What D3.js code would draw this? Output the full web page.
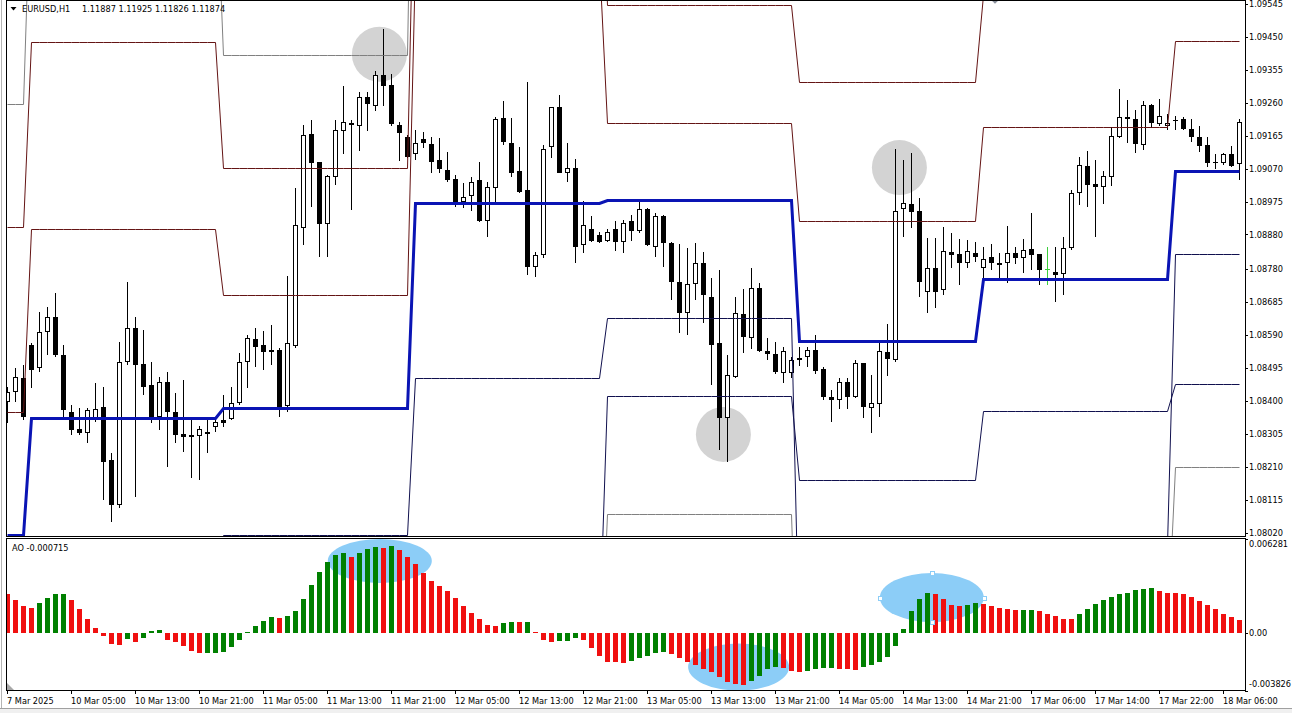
<!DOCTYPE html>
<html><head><meta charset="utf-8">
<script src="https://cdn.jsdelivr.net/npm/d3@7"></script>
<style>
html,body{margin:0;padding:0;background:#fff;overflow:hidden;}
svg{display:block;}
text{font-family:"DejaVu Sans",sans-serif;font-size:8.2px;fill:#000;}
</style></head><body>
<svg id="c" width="1292" height="713"></svg>
<script>
// ---------------- DATA ----------------
const symbolTitle = "EURUSD,H1";
const titleQuote = "1.11887 1.11925 1.11826 1.11874";
const aoTitle = "AO -0.000715";

const opens = [1.08397,1.08425,1.08466,1.08561,1.08495,1.08599,1.08642,1.08532,1.08368,1.08319,1.08307,1.08350,1.08382,1.08229,1.08099,1.08512,1.08610,1.08506,1.08446,1.08353,
1.08454,1.08368,1.08304,1.08296,1.08298,1.08310,1.08324,1.08345,1.08348,1.08394,1.08512,1.08578,1.08561,1.08541,1.08547,1.08385,1.08558,1.08899,1.09170,1.09089,
1.08910,1.09046,1.09179,1.09202,1.09193,1.09277,1.09251,1.09340,1.09311,1.09196,1.09161,1.09112,1.09155,1.09141,1.09095,1.09066,1.09040,1.08974,1.08991,1.09037,
1.08919,1.09014,1.09216,1.09144,1.09063,1.09008,1.08786,1.08821,1.09132,1.09248,1.09057,1.09072,1.08850,1.08896,1.08878,1.08861,1.08896,1.08858,1.08919,1.08890,
1.08953,1.08844,1.08933,1.08855,1.08743,1.08653,1.08737,1.08798,1.08700,1.08567,1.08350,1.08469,1.08650,1.08581,1.08726,1.08544,1.08535,1.08480,1.08480,1.08524,
1.08526,1.08547,1.08492,1.08411,1.08402,1.08454,1.08411,1.08509,1.08379,1.08391,1.08541,1.08518,1.08953,1.08968,1.08948,1.08714,1.08783,1.08720,1.08829,1.08824,
1.08798,1.08827,1.08783,1.08815,1.08798,1.08798,1.08827,1.08812,1.08838,1.08824,1.08780,1.08772,1.08766,1.08841,1.09000,1.09078,1.09026,1.09017,1.09046,1.09161,
1.09219,1.09213,1.09138,1.09254,1.09199,1.09193,1.09210,1.09213,1.09184,1.09161,1.09138,1.09089,1.09086,1.09112,1.09083];
const highs = [1.08440,1.08495,1.08503,1.08567,1.08656,1.08671,1.08711,1.08561,1.08388,1.08379,1.08379,1.08451,1.08440,1.08249,1.08570,1.08743,1.08642,1.08604,1.08512,1.08469,
1.08483,1.08423,1.08460,1.08345,1.08327,1.08345,1.08350,1.08417,1.08440,1.08538,1.08590,1.08610,1.08601,1.08619,1.08552,1.08760,1.09014,1.09196,1.09210,1.09089,
1.09052,1.09210,1.09308,1.09210,1.09291,1.09291,1.09352,1.09473,1.09343,1.09205,1.09167,1.09181,1.09176,1.09161,1.09158,1.09118,1.09052,1.09028,1.09046,1.09089,
1.09031,1.09219,1.09265,1.09216,1.09132,1.09320,1.08829,1.09138,1.09248,1.09282,1.09144,1.09098,1.08977,1.08933,1.08887,1.08896,1.08919,1.08922,1.08936,1.08974,
1.08956,1.08942,1.08936,1.08858,1.08852,1.08841,1.08855,1.08829,1.08754,1.08777,1.08532,1.08700,1.08723,1.08783,1.08740,1.08581,1.08570,1.08555,1.08526,1.08555,
1.08555,1.08590,1.08498,1.08431,1.08466,1.08466,1.08518,1.08509,1.08474,1.08567,1.08622,1.09127,1.09095,1.09115,1.08985,1.08870,1.08870,1.08902,1.08884,1.08867,
1.08864,1.08858,1.08844,1.08852,1.08827,1.08904,1.08844,1.08867,1.08942,1.08824,1.08844,1.08844,1.08873,1.09008,1.09104,1.09121,1.09095,1.09063,1.09190,1.09300,
1.09268,1.09239,1.09265,1.09256,1.09271,1.09228,1.09222,1.09219,1.09213,1.09193,1.09161,1.09112,1.09115,1.09135,1.09213];
const lows = [1.08336,1.08397,1.08345,1.08437,1.08483,1.08532,1.08526,1.08353,1.08301,1.08301,1.08278,1.08339,1.08114,1.08050,1.08091,1.08503,1.08122,1.08417,1.08336,1.08316,
1.08209,1.08278,1.08252,1.08177,1.08172,1.08249,1.08310,1.08324,1.08345,1.08388,1.08437,1.08498,1.08489,1.08503,1.08353,1.08368,1.08552,1.08850,1.08959,1.08815,
1.08815,1.09023,1.09112,1.08951,1.09121,1.09179,1.09236,1.09251,1.09193,1.09092,1.09101,1.09095,1.09129,1.09057,1.09057,1.09031,1.08959,1.08956,1.08948,1.08916,
1.08873,1.08974,1.09138,1.09046,1.09000,1.08763,1.08757,1.08812,1.09101,1.09057,1.09031,1.08798,1.08827,1.08858,1.08855,1.08858,1.08832,1.08827,1.08861,1.08884,
1.08847,1.08815,1.08786,1.08691,1.08596,1.08590,1.08691,1.08625,1.08446,1.08258,1.08223,1.08466,1.08538,1.08550,1.08541,1.08518,1.08477,1.08451,1.08466,1.08500,
1.08498,1.08477,1.08402,1.08339,1.08376,1.08376,1.08408,1.08350,1.08307,1.08353,1.08472,1.08512,1.08873,1.08899,1.08700,1.08653,1.08668,1.08705,1.08783,1.08734,
1.08783,1.08801,1.08754,1.08777,1.08754,1.08740,1.08795,1.08769,1.08777,1.08734,1.08734,1.08685,1.08705,1.08835,1.08965,1.08959,1.08873,1.08968,1.09020,1.09158,
1.09144,1.09115,1.09124,1.09187,1.09193,1.09181,1.09181,1.09181,1.09147,1.09118,1.09075,1.09069,1.09080,1.09075,1.09037];
const closes = [1.08425,1.08469,1.08353,1.08489,1.08599,1.08642,1.08532,1.08373,1.08316,1.08307,1.08373,1.08376,1.08223,1.08099,1.08512,1.08610,1.08503,1.08440,1.08353,1.08454,
1.08368,1.08301,1.08296,1.08301,1.08319,1.08304,1.08339,1.08336,1.08394,1.08512,1.08581,1.08555,1.08541,1.08547,1.08382,1.08567,1.08907,1.09167,1.09086,1.08910,
1.09049,1.09181,1.09205,1.09196,1.09277,1.09256,1.09340,1.09308,1.09199,1.09173,1.09104,1.09144,1.09144,1.09089,1.09069,1.09037,1.08974,1.08988,1.09031,1.08919,
1.09017,1.09213,1.09147,1.09057,1.09003,1.08786,1.08821,1.09127,1.09248,1.09057,1.09072,1.08844,1.08907,1.08861,1.08858,1.08887,1.08858,1.08913,1.08890,1.08953,
1.08850,1.08933,1.08855,1.08743,1.08653,1.08737,1.08798,1.08705,1.08561,1.08350,1.08474,1.08653,1.08584,1.08726,1.08544,1.08535,1.08483,1.08544,1.08518,1.08518,
1.08547,1.08486,1.08411,1.08402,1.08454,1.08411,1.08509,1.08382,1.08394,1.08544,1.08521,1.08948,1.08971,1.08945,1.08743,1.08783,1.08714,1.08832,1.08821,1.08798,
1.08832,1.08815,1.08809,1.08798,1.08792,1.08827,1.08812,1.08835,1.08821,1.08777,1.08780,1.08763,1.08841,1.09000,1.09080,1.09023,1.09017,1.09049,1.09164,1.09219,
1.09213,1.09141,1.09254,1.09202,1.09222,1.09202,1.09207,1.09184,1.09161,1.09135,1.09086,1.09086,1.09112,1.09078,1.09205];

const aoValues = [0.002640,0.002194,0.001795,0.001682,0.001995,0.002327,0.002593,0.002613,0.002194,0.001596,0.000931,0.000332,-0.000180,-0.000685,-0.000798,-0.000399,-0.000578,-0.000313,0.000166,0.000199,
-0.000465,-0.000578,-0.000844,-0.001197,-0.001310,-0.001297,-0.001283,-0.001243,-0.000911,-0.000419,0.000066,0.000485,0.000798,0.001084,0.001051,0.001150,0.001463,0.002261,0.003192,0.004076,
0.004741,0.005186,0.005339,0.005073,0.005340,0.005632,0.005718,0.005672,0.005785,0.005519,0.005073,0.004588,0.004009,0.003457,0.003125,0.002793,0.002347,0.001815,0.001376,0.000931,
0.000532,0.000512,0.000685,0.000751,0.000731,0.000752,0.000086,-0.000445,-0.000578,-0.000512,-0.000505,-0.000286,-0.000445,-0.000977,-0.001509,-0.001908,-0.001915,-0.001975,-0.001862,-0.001642,
-0.001509,-0.001310,-0.001243,-0.001350,-0.001642,-0.001908,-0.002128,-0.002347,-0.002573,-0.002906,-0.003238,-0.003391,-0.003457,-0.003172,-0.002839,-0.002347,-0.002241,-0.002307,-0.002527,-0.002573,
-0.002507,-0.002347,-0.002281,-0.002274,-0.002347,-0.002394,-0.002400,-0.002241,-0.002128,-0.001908,-0.001576,-0.000844,0.000266,0.001463,0.002261,0.002706,0.002640,0.002261,0.001908,0.001795,
0.001862,0.001995,0.001928,0.001815,0.001682,0.001596,0.001529,0.001543,0.001549,0.001463,0.001310,0.001130,0.000977,0.000931,0.001263,0.001596,0.001928,0.002194,0.002414,0.002593,
0.002680,0.002859,0.002926,0.003012,0.002793,0.002680,0.002673,0.002613,0.002414,0.002128,0.001862,0.001596,0.001263,0.001084,0.000864];

// daily levels (one value per trading day); dayStarts = first bar of each day
const dayStarts   = [0, 3, 27, 51, 75, 99, 122, 146];
const pivotLevels = [1.08013,1.08350,1.08379,1.08971,1.08979,1.08573,1.08751,1.09063];
const r1Levels    = [1.08368,1.08896,1.08705,1.09672,1.09202,1.08919,1.09190,1.09438];
const r2Levels    = [1.08902,1.09435,1.09072,1.10134,1.09542,1.09320,1.09571,1.09845];
const r3Levels    = [1.09256,1.09978,1.09398,1.10711,1.10422,1.10134,1.09989,1.10278];
const s1Levels    = [1.07768,1.07537,1.08013,1.08466,1.08639,1.07652,1.07984,1.08824];
const s2Levels    = [1.07537,1.07248,1.07681,1.07721,1.08414,1.08172,1.08371,1.08449];
const s3Levels    = [1.07306,1.06960,1.07392,1.07537,1.08073,1.07392,1.07718,1.08209];

const priceTicks = [1.09545,1.09450,1.09355,1.09260,1.09165,1.09070,1.08975,1.08880,1.08780,1.08685,1.08590,1.08495,1.08400,1.08305,1.08210,1.08115,1.08020];
const aoTicks = [0.006281, 0, -0.003826];
const aoTickLabels = ["0.006281","0.00","-0.003826"];
const timeBars = [0,8,16,24,32,40,48,56,64,72,80,88,96,104,112,120,128,136,144,152];
const timeLabels = ["7 Mar 2025","10 Mar 05:00","10 Mar 13:00","10 Mar 21:00","11 Mar 05:00","11 Mar 13:00","11 Mar 21:00","12 Mar 05:00","12 Mar 13:00","12 Mar 21:00",
"13 Mar 05:00","13 Mar 13:00","13 Mar 21:00","14 Mar 05:00","14 Mar 13:00","14 Mar 21:00","17 Mar 06:00","17 Mar 14:00","17 Mar 22:00","18 Mar 06:00"];

// chart annotations (anchored at bar index / value)
const circleBars   = [46.55, 111.55, 89.55];
const circlePrices = [1.09400, 1.09073, 1.08303];
const ellipseBars  = [46.6, 115.6, 91.45];
const ellipseVals  = [0.004818, 0.002390, -0.002231];

// ---------------- DRAW ----------------
const svg = d3.select("#c");
const L = 6.5, R = 1245.5, mainTop = 0.5, mainBot = 536.5, aoTop = 538.5, aoBot = 690.5;
const n = opens.length;
const x = d3.scaleLinear().domain([0, n - 1]).range([7, 7 + 8 * (n - 1)]);
const y = d3.scaleLinear().domain([1.08020, 1.09545]).range([532.5, 4]);
const ya = d3.scaleLinear().domain([-0.003826, 0.006281]).range([691, 539]);

// window frame
svg.append("rect").attr("x",0).attr("y",708).attr("width",1292).attr("height",5).attr("fill","#f0f0f0");
svg.append("line").attr("x1",0).attr("x2",1292).attr("y1",708.5).attr("y2",708.5).attr("stroke","#a0a0a0");
svg.append("line").attr("x1",1.5).attr("x2",1.5).attr("y1",0).attr("y2",708).attr("stroke","#b4b4b4");

const defs = svg.append("defs");
defs.append("clipPath").attr("id","clipMain").append("rect").attr("x",7).attr("y",1).attr("width",1238).attr("height",535);
defs.append("clipPath").attr("id","clipAO").append("rect").attr("x",7).attr("y",539).attr("width",1238).attr("height",151);

const gMain = svg.append("g").attr("clip-path","url(#clipMain)");

// highlight circles
gMain.append("g").selectAll("circle").data(circleBars).join("circle")
  .attr("cx",(d)=>x(d)).attr("cy",(d,i)=>y(circlePrices[i])).attr("r",27.5)
  .attr("fill","#d3d3d3");

// candles
const gC = gMain.append("g").attr("shape-rendering","crispEdges");
const idx = d3.range(n);
const dojiColor = "#3ccf3c";
gC.selectAll("rect.wick").data(idx).join("rect").attr("class","wick")
  .attr("x",i=>x(i)).attr("width",1)
  .attr("y",i=>Math.round(y(highs[i])))
  .attr("height",i=>Math.max(1,Math.round(y(lows[i]))-Math.round(y(highs[i]))))
  .attr("fill",i=>opens[i]===closes[i]?dojiColor:"#000");
gC.selectAll("rect.body").data(idx).join("rect").attr("class","body")
  .each(function(i){
    const s = d3.select(this);
    const yo = Math.round(y(opens[i])), yc = Math.round(y(closes[i]));
    if (closes[i] < opens[i]) {
      s.attr("x",x(i)-2).attr("width",5).attr("y",yo).attr("height",Math.max(1,yc-yo)).attr("fill","#000");
    } else if (closes[i] > opens[i]) {
      s.attr("x",x(i)-1.5).attr("width",4).attr("y",yc+0.5).attr("height",Math.max(0,yo-yc-1))
       .attr("fill","#fff").attr("stroke","#000").attr("stroke-width",1);
    } else {
      s.attr("x",x(i)-2).attr("width",5).attr("y",yo).attr("height",1).attr("fill",dojiColor);
    }
  });

// daily level lines
const dayOf = i => d3.bisectRight(dayStarts, i) - 1;
const levelLine = d3.line().x(i=>x(i)+0.5);
function drawLevels(levels, color, width) {
  gMain.append("path")
    .attr("d", levelLine.y(i=>Math.round(y(levels[dayOf(i)]))+ (width%2?0.5:0))(idx))
    .attr("fill","none").attr("stroke",color).attr("stroke-width",width)
    .attr("stroke-linejoin","miter");
}
drawLevels(r3Levels, "#808080", 1);
drawLevels(s3Levels, "#808080", 1);
drawLevels(r2Levels, "#641414", 1);
drawLevels(r1Levels, "#641414", 1);
drawLevels(s1Levels, "#10104e", 1);
drawLevels(s2Levels, "#10104e", 1);
drawLevels(pivotLevels, "#0a14b4", 3);

// marker at the top edge
gMain.append("path").attr("d", d3.symbol().type(d3.symbolDiamond2).size(60)())
  .attr("transform","translate(995,-1)").attr("fill","#8a909c");

// AO panel
const gAO = svg.append("g").attr("clip-path","url(#clipAO)");
gAO.append("g").selectAll("ellipse").data(ellipseBars).join("ellipse")
  .attr("cx",d=>x(d)).attr("cy",(d,i)=>ya(ellipseVals[i]))
  .attr("rx",(d,i)=>i===2?50.5:52).attr("ry",(d,i)=>[22,24.5,23.5][i])
  .attr("fill","#8ccdf7");
const y0 = Math.round(ya(0));
gAO.append("g").attr("shape-rendering","crispEdges").selectAll("rect").data(idx).join("rect")
  .attr("x",i=>x(i)-2).attr("width",5)
  .attr("y",i=>Math.min(y0, Math.round(ya(aoValues[i]))))
  .attr("height",i=>Math.max(1, Math.abs(Math.round(ya(aoValues[i]))-y0)))
  .attr("fill",i=>(i>0 && aoValues[i]>aoValues[i-1])?"#008000":"#f01010");
// selection handles of the 2nd ellipse
const e2x = x(ellipseBars[1]), e2y = ya(ellipseVals[1]);
gAO.append("g").selectAll("rect").data([[0,-24.5],[-52,0],[52,0],[0,24.5]]).join("rect")
  .attr("x",d=>Math.round(e2x+d[0])-1.5).attr("y",d=>Math.round(e2y+d[1])-1.5)
  .attr("width",4).attr("height",4).attr("fill","#fff").attr("stroke","#8ccdf7")
  .attr("shape-rendering","crispEdges");
svg.append("path").attr("d","M7,683L7,690L14,690Z").attr("fill","#a8a8a8");

// panel borders
const gB = svg.append("g").attr("fill","none").attr("stroke","#000").attr("shape-rendering","crispEdges");
gB.append("rect").attr("x",L).attr("y",mainTop).attr("width",R-L).attr("height",mainBot-mainTop);
gB.append("rect").attr("x",L).attr("y",aoTop).attr("width",R-L).attr("height",aoBot-aoTop);

// price axis
const gy = svg.append("g").attr("transform",`translate(${R-0.5},0)`)
  .call(d3.axisRight(y).tickValues(priceTicks).tickSize(3).tickPadding(1).tickFormat(d3.format(".5f")));
gy.select(".domain").remove();
gy.attr("font-family",null).attr("font-size",null);
gy.selectAll("line").attr("stroke","#000").attr("shape-rendering","crispEdges");
gy.selectAll("text").attr("fill","#000");

// AO axis labels
const gya = svg.append("g").attr("transform",`translate(${R-0.5},0)`);
gya.selectAll("line").data(aoTicks).join("line")
  .attr("x1",0).attr("x2",3).attr("y1",d=>Math.round(ya(d))+0.5).attr("y2",d=>Math.round(ya(d))+0.5)
  .attr("stroke","#000").attr("shape-rendering","crispEdges");
gya.selectAll("text").data(aoTicks).join("text")
  .attr("x",4).attr("y",(d,i)=>ya(d) + (i===0?5:(i===2?-7:0)))
  .attr("dy","0.32em").text((d,i)=>aoTickLabels[i]);

// time axis
const gx = svg.append("g").attr("transform",`translate(0,${aoBot})`)
  .call(d3.axisBottom(x).tickValues(timeBars).tickSize(3).tickFormat((d,i)=>timeLabels[i]));
gx.select(".domain").remove();
gx.attr("font-family",null).attr("font-size",null);
gx.selectAll("line").attr("stroke","#000").attr("shape-rendering","crispEdges");
gx.selectAll("text").attr("fill","#000").attr("text-anchor","start").attr("x",-0.5).attr("y",13.5).attr("dy",0);

// titles
svg.append("path").attr("d","M10.5,7L16.5,7L13.5,10.5Z").attr("fill","#000");
svg.append("text").attr("x",22).attr("y",12).text(symbolTitle);
svg.append("text").attr("x",82).attr("y",12).text(titleQuote);
svg.append("text").attr("x",12).attr("y",551).text(aoTitle);
</script>
</body></html>
